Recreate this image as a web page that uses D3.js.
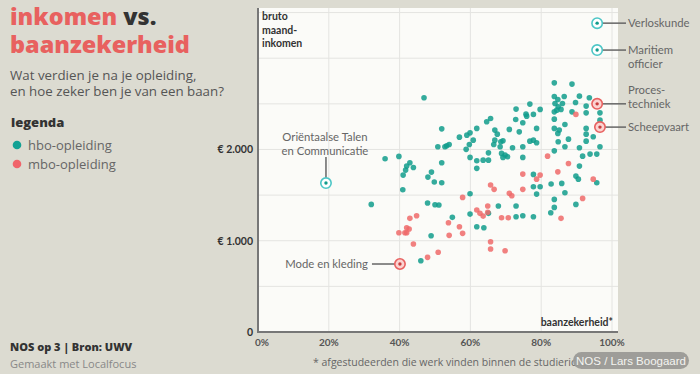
<!DOCTYPE html>
<html>
<head>
<meta charset="utf-8">
<script src="https://cdn.jsdelivr.net/npm/d3@7"></script>
<style>
  html, body { margin: 0; padding: 0; background: #dcdbd1; }
  svg { display: block; font-family: Lato, "Open Sans", sans-serif; }
</style>
</head>
<body>
<svg id="chart" width="700" height="374"></svg>
<script>
// ---------- data ----------
const categories = ["hbo-opleiding", "mbo-opleiding"];
const categoryColors = ["#119c8c", "#ef6a6a"];

// [baanzekerheid %, bruto maandinkomen €]
const hboPoints = [
  [46.9,2566],[51.9,2226],[56.9,2135],[59.0,2157],[59.9,2182],[61.8,2231],[59.7,2055],[50.8,2029],
  [52.8,2029],[53.3,2040],[54.0,2055],[58.8,2001],[35.9,1898],[39.8,1924],[59.9,1913],[61.8,1876],
  [51.9,1854],[42.9,1854],[42.0,1818],[43.9,1803],[41.7,1774],[41.0,1719],[49.0,1752],[48.0,1697],
  [49.8,1643],[51.9,1635],[61.8,1793],[40.9,1558],[59.9,1514],[32.0,1398],[47.9,1413],[50.0,1394],
  [51.1,1391],[54.9,1256],[59.9,1292],[61.8,1153],[48.9,1054],[46.0,781],[60.8,2102],
  [83.7,2730],[88.7,2716],[83.7,2580],[84.7,2548],[86.5,2580],[83.9,2504],[84.8,2467],[86.0,2504],
  [84.4,2431],[85.6,2439],[83.7,2412],[89.7,2515],[90.8,2584],[93.6,2566],[92.7,2475],[92.7,2401],
  [96.6,2401],[96.6,2321],[76.8,2497],[72.9,2442],[77.8,2384],[79.7,2439],[75.7,2387],[75.9,2365],
  [72.8,2329],[74.8,2292],[78.7,2231],[83.7,2332],[83.7,2231],[85.1,2212],[84.7,2176],[86.7,2274],
  [88.7,2412],[92.7,2231],[92.7,2168],[92.7,2091],[94.7,2139],[96.6,2029],[64.6,2303],[65.7,2340],
  [66.9,2212],[67.6,2168],[69.2,2095],[68.6,2084],[66.9,2102],[66.6,2055],[68.4,2029],[71.0,2220],
  [73.8,2193],[76.8,2091],[77.8,2102],[78.7,2073],[71.9,2018],[74.8,2029],[65.1,1963],[63.6,1883],
  [65.1,1883],[68.8,1957],[69.8,1940],[70.5,1920],[69.2,1913],[74.8,1913],[84.8,2084],[87.7,2113],
  [83.7,1985],[86.7,2029],[90.8,2018],[91.7,1927],[93.8,1949],[95.7,1949],[90.8,1818],[89.8,1708],
  [90.5,1675],[95.7,1635],[77.8,1727],[77.8,1591],[79.7,1591],[78.7,1511],[82.8,1621],[85.8,1628],
  [86.7,1525],[83.7,1453],[83.7,1365],[89.8,1398],[82.7,1306],[72.9,1380],[67.9,1380],[65.1,1300],
  [72.9,1262],[74.8,1273],[77.8,1262],[63.8,1142]
];
const mboPoints = [
  [57.8,1475],[61.8,1336],[44.8,1273],[42.9,1245],[42.0,1142],[42.7,1128],[41.5,1087],[39.8,1087],
  [42.0,1087],[53.8,1197],[56.9,1153],[57.8,1081],[54.0,1059],[43.9,964],[50.9,873],[47.9,818],
  [89.8,2384],[81.8,1927],[87.7,1847],[84.7,1755],[74.8,1730],[78.7,1675],[79.7,1719],[65.7,1610],
  [66.7,1563],[74.8,1563],[71.0,1519],[71.7,1493],[94.7,1675],[91.7,1464],[62.7,1300],[63.6,1270],
  [64.9,1380],[64.9,1311],[68.8,1251],[70.7,1251],[85.6,1245],[65.7,989],[65.7,909],[69.8,890]
];

const highlightNames = [["Verloskunde"], ["Maritiem", "officier"], ["Proces-", "techniek"], ["Scheepvaart"], ["Oriëntaalse Talen", "en Communicatie"], ["Mode en kleding"]];
const highlightX = [95.8, 95.8, 95.8, 96.6, 19.2, 40.1];
const highlightY = [3384, 3089, 2500, 2245, 1632, 745];
const highlightCat = [0, 0, 1, 1, 0, 1];

const xTicks = [0, 20, 40, 60, 80, 100];
const xTickLabels = ["0%", "20%", "40%", "60%", "80%", "100%"];
const yTicks = [0, 1000, 2000];
const yTickLabels = ["0", "€ 1.000", "€ 2.000"];
const yGrid = [500, 1000, 1500, 2000, 2500, 3000, 3500];

// ---------- layout ----------
const svg = d3.select("#chart");
const x = d3.scaleLinear().domain([0, 100]).range([258, 612]);
const y = d3.scaleLinear().domain([0, 3550]).range([332, 8]);
const panelRight = 618;
const wide = "'Open Sans', Lato, sans-serif";

// fit helper: scale font-size so a text reaches a target width
function fit(sel, w) {
  const n = sel.node(); const cur = n.getComputedTextLength();
  const fs = parseFloat(sel.attr("font-size"));
  if (cur > 0) sel.attr("font-size", (fs * w / cur).toFixed(2));
  return sel;
}

// panel
svg.append("rect").attr("x", x(0)).attr("y", y(3550)).attr("width", panelRight - x(0)).attr("height", y(0) - y(3550)).attr("fill", "#fbfbf8");

// grid
svg.append("g").selectAll("line").data(xTicks.slice(1)).join("line")
  .attr("x1", d => x(d)).attr("x2", d => x(d)).attr("y1", y(3550)).attr("y2", y(0))
  .attr("stroke", "#e4e4e1").attr("stroke-width", 1);
svg.append("g").selectAll("line").data(yGrid).join("line")
  .attr("x1", x(0)).attr("x2", panelRight).attr("y1", d => y(d)).attr("y2", d => y(d))
  .attr("stroke", "#e4e4e1").attr("stroke-width", 1);

// points
svg.append("g").selectAll("circle").data(hboPoints).join("circle")
  .attr("cx", d => x(d[0])).attr("cy", d => y(d[1])).attr("r", 2.8)
  .attr("fill", categoryColors[0]).attr("fill-opacity", 0.85);
svg.append("g").selectAll("circle").data(mboPoints).join("circle")
  .attr("cx", d => x(d[0])).attr("cy", d => y(d[1])).attr("r", 2.8)
  .attr("fill", categoryColors[1]).attr("fill-opacity", 0.85);

// axes lines
svg.append("line").attr("x1", x(0)).attr("x2", x(0)).attr("y1", y(3550)).attr("y2", y(0) + 1)
  .attr("stroke", "#777").attr("stroke-width", 2);
svg.append("line").attr("x1", x(0) - 1).attr("x2", panelRight).attr("y1", y(0)).attr("y2", y(0))
  .attr("stroke", "#777").attr("stroke-width", 2);

// tick labels
svg.append("g").selectAll("text").data(xTicks).join("text")
  .attr("x", (d, i) => x(d) + (i === 0 ? 4 : 0)).attr("y", 346)
  .attr("text-anchor", "middle").attr("font-size", 10).attr("font-weight", 700).attr("fill", "#555")
  .text((d, i) => xTickLabels[i]);
svg.append("g").selectAll("text").data(yTicks).join("text")
  .attr("x", 253).attr("y", d => y(d) + 4)
  .attr("text-anchor", "end").attr("font-size", 10.5).attr("font-weight", 700).attr("fill", "#333")
  .text((d, i) => yTickLabels[i]);

// axis titles
const yt = svg.append("text").attr("font-size", 10.5).attr("font-weight", 700).attr("fill", "#333");
["bruto", "maand-", "inkomen"].forEach((t, i) => yt.append("tspan").attr("x", 262).attr("y", 20 + i * 13.5).text(t));
svg.append("text").attr("x", 613).attr("y", 326).attr("text-anchor", "end")
  .attr("font-size", 10.5).attr("font-weight", 700).attr("fill", "#333").text("baanzekerheid*");

// highlighted points + annotations
const ringColors = ["#4cc6c6", "#e8605f"];
const ringFills = ["#ffffff", "#fbd3d1"];
const dotColors = ["#119c8c", "#c93c3c"];
highlightX.forEach((hx, i) => {
  const cx = x(hx), cy = y(highlightY[i]), c = highlightCat[i];
  const g = svg.append("g");
  g.append("circle").attr("cx", cx).attr("cy", cy).attr("r", 5.2)
    .attr("fill", ringFills[c]).attr("stroke", ringColors[c]).attr("stroke-width", 1.6);
  g.append("circle").attr("cx", cx).attr("cy", cy).attr("r", 1.7).attr("fill", dotColors[c]);
  const lines = highlightNames[i];
  const txt = g.append("text").attr("font-size", 11.3).attr("fill", "#666");
  if (i <= 3) {
    g.insert("line", "circle").attr("x1", cx + 5).attr("x2", 626).attr("y1", cy).attr("y2", cy)
      .attr("stroke", "#666").attr("stroke-width", 1.5);
    const lastY = cy + 4;
    lines.forEach((t, k) => txt.append("tspan").attr("x", 628)
      .attr("y", i === 1 ? cy + 4 + k * 13.5 : lastY - (lines.length - 1 - k) * 13.5).text(t));
  } else if (i === 4) {
    g.insert("line", "circle").attr("x1", cx).attr("x2", cx).attr("y1", cy - 26).attr("y2", cy - 5)
      .attr("stroke", "#666").attr("stroke-width", 1.5);
    txt.attr("text-anchor", "middle");
    lines.forEach((t, k) => txt.append("tspan").attr("x", cx - 1).attr("y", cy - 42 + k * 14).text(t));
  } else {
    g.insert("line", "circle").attr("x1", cx - 28).attr("x2", cx - 5).attr("y1", cy).attr("y2", cy)
      .attr("stroke", "#666").attr("stroke-width", 1.5);
    txt.attr("text-anchor", "end");
    lines.forEach(t => txt.append("tspan").attr("x", cx - 32).attr("y", cy + 4).text(t));
  }
});

// title
const t2 = svg.append("text").attr("x", 10).attr("y", 53).attr("font-size", 24).attr("font-weight", 800)
  .attr("font-family", wide).attr("fill", "#e8615f").text("baanzekerheid");
fit(t2, 180);
const tfs = t2.attr("font-size");
const title = svg.append("text").attr("font-size", tfs).attr("font-weight", 800).attr("font-family", wide);
title.append("tspan").attr("x", 10).attr("y", 25).attr("fill", "#e8615f").text("inkomen ");
title.append("tspan").attr("fill", "#333").text("vs.");

const s1 = svg.append("text").attr("x", 10).attr("y", 80).attr("font-size", 13).attr("fill", "#555")
  .attr("font-family", wide).text("Wat verdien je na je opleiding,");
const s2 = svg.append("text").attr("x", 10).attr("y", 96).attr("font-size", 13).attr("fill", "#555")
  .attr("font-family", wide).text("en hoe zeker ben je van een baan?");
fit(s2, 214);
s1.attr("font-size", s2.attr("font-size"));

// legend
svg.append("text").attr("x", 11).attr("y", 127).attr("font-size", 13).attr("font-weight", 800)
  .attr("font-family", wide).attr("fill", "#333").text("legenda");
const leg = svg.append("g").selectAll("g").data(categories).join("g")
  .attr("transform", (d, i) => `translate(0, ${145 + i * 19})`);
leg.append("circle").attr("cx", 17).attr("cy", 0).attr("r", 4.3).attr("fill", (d, i) => i === 0 ? "#13a194" : "#f0646a");
leg.append("text").attr("x", 28).attr("y", 4.5).attr("font-size", 13).attr("font-family", wide)
  .attr("fill", "#666").text(d => d);

// footer
svg.append("text").attr("x", 10).attr("y", 351).attr("font-size", 11).attr("font-weight", 800)
  .attr("font-family", wide).attr("fill", "#333").text("NOS op 3 | Bron: UWV");
svg.append("text").attr("x", 10).attr("y", 368).attr("font-size", 11).attr("font-family", wide)
  .attr("fill", "#888").text("Gemaakt met Localfocus");

const fn = svg.append("text").attr("x", 313).attr("y", 366).attr("font-size", 10.5).attr("fill", "#666")
  .attr("font-family", wide).text("* afgestudeerden die werk vinden binnen de studierichting");

// watermark
svg.append("rect").attr("x", 573).attr("y", 352).attr("width", 116).attr("height", 17).attr("rx", 8.5)
  .attr("fill", "#9a9a96").attr("fill-opacity", 0.95);
svg.append("text").attr("x", 631).attr("y", 364.5).attr("text-anchor", "middle")
  .attr("font-family", "'Liberation Sans Narrow', 'Arial Narrow', sans-serif").attr("font-size", 11.5)
  .attr("fill", "#f4f4f0").text("NOS / Lars Boogaard");
</script>
</body>
</html>
